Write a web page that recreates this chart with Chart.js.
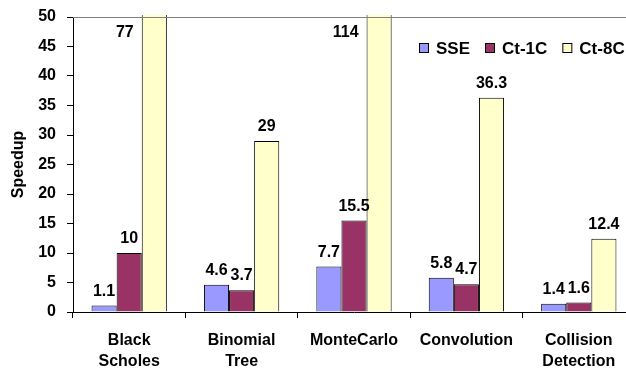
<!DOCTYPE html>
<html>
<head>
<meta charset="utf-8">
<title>Speedup</title>
<script src="https://cdn.jsdelivr.net/npm/chart.js@4"></script>
<style>
  html, body { margin: 0; padding: 0; background: #fff; overflow: hidden; }
  #wrap { width: 626px; height: 369px; overflow: hidden; }
</style>
</head>
<body>
<div id="wrap"><canvas id="chart" width="635" height="369"></canvas></div>
<script>
// data
const categories = [['Black', 'Scholes'], ['Binomial', 'Tree'], 'MonteCarlo', 'Convolution', ['Collision', 'Detection']];
const seriesNames = ['SSE', 'Ct-1C', 'Ct-8C'];
const sseValues = [1.1, 4.6, 7.7, 5.8, 1.4];
const ct1cValues = [10, 3.7, 15.5, 4.7, 1.6];
const ct8cValues = [77, 29, 114, 36.3, 12.4];
const yTicks = [0, 5, 10, 15, 20, 25, 30, 35, 40, 45, 50];

const colors = ['#9999FF', '#993366', '#FFFFCC'];
const FONT = 'Arial, "Liberation Sans", sans-serif';
const yMax = yTicks[yTicks.length - 1];

// value labels above bars; clipped bars get their label left of the bar
const valueLabels = {
  id: 'valueLabels',
  afterDatasetsDraw(chart) {
    const ctx = chart.ctx;
    ctx.save();
    ctx.font = 'bold 16px ' + FONT;
    ctx.fillStyle = '#000';
    ctx.textBaseline = 'alphabetic';
    chart.data.datasets.forEach((ds, i) => {
      const meta = chart.getDatasetMeta(i);
      meta.data.forEach((bar, j) => {
        const v = ds.data[j];
        if (v > yMax) {
          ctx.textAlign = 'right';
          ctx.fillText(String(v), bar.x - bar.width / 2 - 8, chart.chartArea.top + 20);
        } else {
          ctx.textAlign = 'center';
          ctx.fillText(String(v), bar.x, bar.y - 10);
        }
      });
    });
    ctx.restore();
  }
};

// top border line and the legend inside the plot
const frameAndLegend = {
  id: 'frameAndLegend',
  afterDraw(chart) {
    const ctx = chart.ctx;
    const a = chart.chartArea;
    ctx.save();
    ctx.strokeStyle = '#808080';
    ctx.lineWidth = 1;
    ctx.beginPath();
    ctx.moveTo(a.left, a.top + 0.5);
    ctx.lineTo(a.right, a.top + 0.5);
    ctx.stroke();

    ctx.font = 'bold 17px ' + FONT;
    ctx.textAlign = 'left';
    ctx.textBaseline = 'middle';
    let x = 419;
    const y = 49;
    seriesNames.forEach((name, i) => {
      ctx.fillStyle = colors[i];
      ctx.fillRect(x + 0.5, y - 5.5, 9, 9);
      ctx.strokeStyle = '#000';
      ctx.strokeRect(x + 0.5, y - 5.5, 9, 9);
      ctx.fillStyle = '#000';
      ctx.fillText(name, x + 17, y);
      x += 17 + ctx.measureText(name).width + 15;
    });
    ctx.restore();
  }
};

new Chart(document.getElementById('chart'), {
  type: 'bar',
  data: {
    labels: categories,
    datasets: [
      { label: seriesNames[0], data: sseValues, backgroundColor: colors[0] },
      { label: seriesNames[1], data: ct1cValues, backgroundColor: colors[1] },
      { label: seriesNames[2], data: ct8cValues, backgroundColor: colors[2] }
    ].map(ds => Object.assign(ds, {
      borderColor: '#000',
      borderWidth: 1,
      borderSkipped: 'bottom',
      categoryPercentage: 0.67,
      barPercentage: 1,
      clip: { left: 0, top: 2, right: 0, bottom: 0 }
    }))
  },
  options: {
    responsive: false,
    devicePixelRatio: 1,
    animation: false,
    layout: { padding: { top: 17, left: 0, right: 0, bottom: 0 } },
    plugins: {
      legend: { display: false },
      tooltip: { enabled: false }
    },
    scales: {
      x: {
        grid: { offset: true, drawOnChartArea: false, tickLength: 6, color: '#000' },
        border: { color: '#000' },
        ticks: {
          color: '#000',
          padding: 12,
          maxRotation: 0,
          autoSkip: false,
          font: { family: FONT, size: 16, weight: 'bold', lineHeight: 1.3 }
        },
        afterFit(scale) { scale.height = 57; }
      },
      y: {
        min: 0,
        max: yMax,
        afterBuildTicks(scale) { scale.ticks = yTicks.map(v => ({ value: v })); },
        grid: { drawOnChartArea: false, tickLength: 6, color: '#000' },
        border: { color: '#000' },
        ticks: {
          color: '#000',
          padding: 11,
          font: { family: FONT, size: 16, weight: 'bold' }
        },
        title: {
          display: true,
          text: 'Speedup',
          color: '#000',
          padding: { top: 9, bottom: 0 },
          font: { family: FONT, size: 16, weight: 'bold' }
        },
        afterFit(scale) {
          scale.width = 73;
          scale.paddingTop = 0;
          scale.paddingBottom = 0;
        }
      }
    }
  },
  plugins: [valueLabels, frameAndLegend]
});
</script>
</body>
</html>
